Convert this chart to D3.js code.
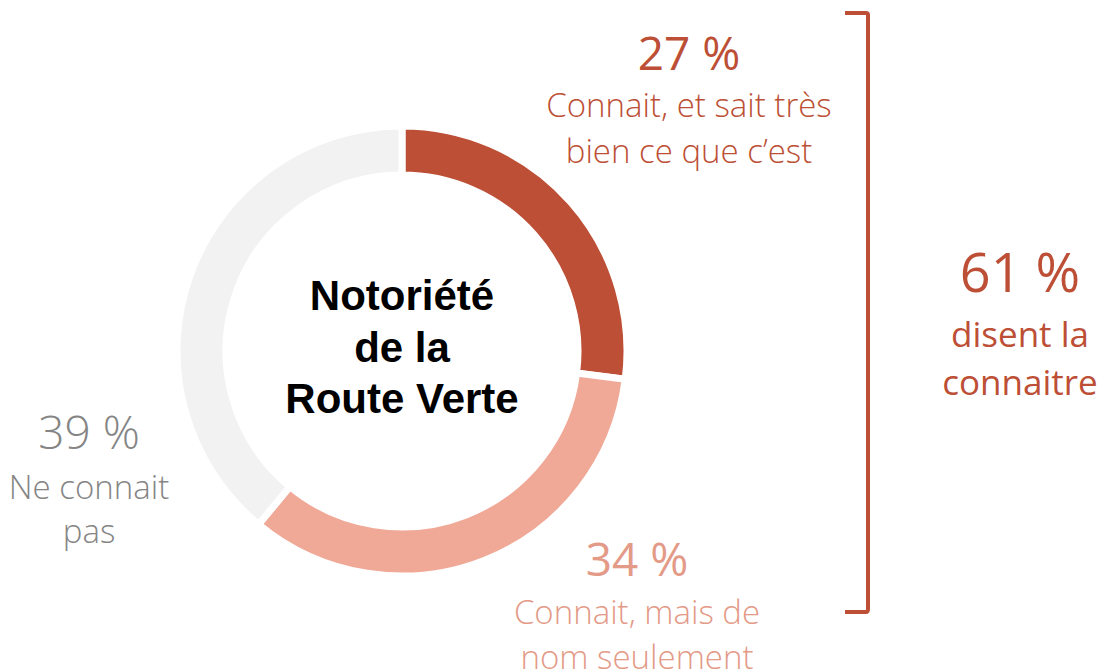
<!DOCTYPE html>
<html>
<head>
<meta charset="utf-8">
<script src="https://cdn.jsdelivr.net/npm/d3@7"></script>
<style>
  body { margin: 0; background: #fff; }
  svg { display: block; }
</style>
</head>
<body>
<svg width="1104" height="672"></svg>
<script>
// donut : notoriété de la Route Verte
var categories = ["Connait, et sait très bien ce que c’est", "Connait, mais de nom seulement", "Ne connait pas"];
var values = [27, 34, 39];
var colors = ["#BC4F35", "#F0A897", "#F2F2F2"];
var titleLines = ["Notoriété", "de la", "Route Verte"];
var totalLabel = ["61 %", "disent la", "connaitre"];

var svg = d3.select("svg");
var cx = 402, cy = 351, rOut = 225, rIn = 176;

var pie = d3.pie().sort(null).value(function(d) { return d; });
var arc = d3.arc().innerRadius(rIn).outerRadius(rOut);

var g = svg.append("g").attr("transform", "translate(" + cx + "," + cy + ")");
g.selectAll("path")
  .data(pie(values))
  .enter().append("path")
    .attr("d", arc)
    .attr("fill", function(d, i) { return colors[i]; })
    .attr("stroke", "#fff")
    .attr("stroke-width", 7);

// titre au centre
g.append("text")
  .attr("text-anchor", "middle")
  .attr("font-family", "Liberation Sans, Arial, sans-serif")
  .attr("font-weight", "bold")
  .attr("font-size", 42)
  .attr("fill", "#000")
  .selectAll("tspan")
  .data(titleLines)
  .enter().append("tspan")
    .attr("x", 0)
    .attr("y", function(d, i) { return -41 + i * 51.5; })
    .text(function(d) { return d; });

// étiquettes des segments
var labels = [
  { pct: values[0] + " %", lines: ["Connait, et sait très", "bien ce que c’est"], x: 689, y: 70, dy: [47, 93], color: "#BC4F35", w: 400, lw: 300 },
  { pct: values[1] + " %", lines: ["Connait, mais de", "nom seulement"], x: 637, y: 576, dy: [48, 93], color: "#E39A87", w: 400, lw: 300 },
  { pct: values[2] + " %", lines: ["Ne connait", "pas"], x: 89, y: 449, dy: [50, 94], color: "#858585", w: 300, lw: 300 }
];

labels.forEach(function(l) {
  var t = svg.append("text")
    .attr("text-anchor", "middle")
    .attr("font-family", "Open Sans, sans-serif")
    .attr("fill", l.color);
  t.append("tspan")
    .attr("x", l.x).attr("y", l.y)
    .attr("font-size", 46)
    .attr("font-weight", l.w)
    .text(l.pct);
  l.lines.forEach(function(s, i) {
    t.append("tspan")
      .attr("x", l.x).attr("y", l.y + l.dy[i])
      .attr("font-size", 33)
      .attr("font-weight", l.lw)
      .text(s);
  });
});

// accolade à droite
svg.append("path")
  .attr("d", "M845,13 H866 Q868,13 868,15 V609 Q868,612 866,612 H845")
  .attr("fill", "none")
  .attr("stroke", "#BC4F35")
  .attr("stroke-width", 4);

var tt = svg.append("text")
  .attr("text-anchor", "middle")
  .attr("font-family", "Open Sans, sans-serif")
  .attr("fill", "#BC4F35");
totalLabel.forEach(function(s, i) {
  tt.append("tspan")
    .attr("x", 1020)
    .attr("y", [292, 347, 395][i])
    .attr("font-size", i === 0 ? 54 : 35)
    .attr("font-weight", 400)
    .text(s);
});
</script>
</body>
</html>
